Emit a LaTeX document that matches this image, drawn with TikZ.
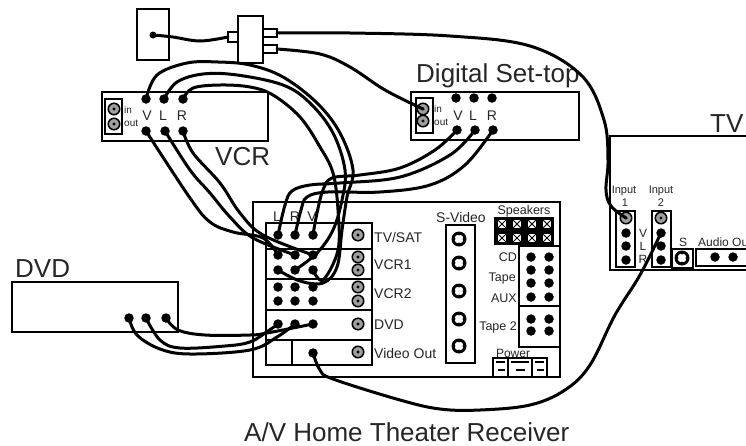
\documentclass[tikz,border=0pt]{standalone}
\usepackage{fontspec}
\setmainfont{Liberation Sans}
\usetikzlibrary{positioning}
\tikzset{
    panel/.style={draw, line width=2pt, fill=white, rectangle, inner sep=0pt, outer sep=0pt},
    dot/.style={circle, fill=black, minimum size=9.5pt, inner sep=0pt, outer sep=0pt},
    jack/.style={circle, draw, line width=1.5pt, fill=black!38, minimum size=11.5pt, inner sep=0pt, outer sep=0pt,
        path picture={\fill[black] (path picture bounding box.center) circle (1.7pt);}},
    svideo/.style={circle, fill=black, minimum size=15pt, inner sep=0pt, outer sep=0pt,
        path picture={\fill[white] (path picture bounding box.center) circle (4.6pt);
            \fill[black] (path picture bounding box.center)++(4.4pt,0) circle (1.1pt);
            \fill[black] (path picture bounding box.center)++(-4.4pt,0) circle (1.1pt);
            \fill[black] (path picture bounding box.center)++(0,4.4pt) circle (1.1pt);
            \fill[black] (path picture bounding box.center)++(0,-4.4pt) circle (1.1pt);}},
    spk/.style={rectangle, fill=white, minimum size=8.5pt, inner sep=0pt, outer sep=0pt,
        path picture={\draw[black, line width=.9pt] (path picture bounding box.north west) -- (path picture bounding box.south east);
            \draw[black, line width=.9pt] (path picture bounding box.north east) -- (path picture bounding box.south west);}},
    cable/.style={line width=3pt, line cap=round, line join=round},
    biglabel/.style={anchor=base west, inner sep=0pt, font=\fontsize{26}{28}\selectfont, text=black!85},
    midlabel/.style={anchor=base, inner sep=0pt, font=\fontsize{14}{16}\selectfont, text=black!85},
    leftlabel/.style={midlabel, anchor=base west},
    rightlabel/.style={midlabel, anchor=base east, font=\fontsize{12.5}{14}\selectfont},
    smalllabel/.style={anchor=base, inner sep=0pt, font=\fontsize{12}{14}\selectfont, text=black!85},
    tinylabel/.style={anchor=base west, inner sep=0pt, font=\fontsize{10}{12}\selectfont, text=black!85},
    partline/.style={line width=2pt},
    powermark/.style={line width=1.6pt}
}
\begin{document}
\begin{tikzpicture}[x=1pt, y=-1pt]
    \clip (0,0) rectangle (746,445);

    % wall plate and splitter
    \node[panel, minimum width=32pt, minimum height=51pt] (wall) at (153,34.5) {};
    \node[dot, minimum size=7pt] (walljack) at (153,35) {};
    \node[panel, minimum width=25pt, minimum height=47pt] (splitter) at (250.5,39.5) {};
    \node[panel, minimum width=10pt, minimum height=10pt] (splitin) at (233,37) {};
    \node[panel, minimum width=14pt, minimum height=8pt] (splitA) at (270,33) {};
    \node[panel, minimum width=14pt, minimum height=8pt] (splitB) at (270,49) {};

    % VCR
    \node[panel, minimum width=166pt, minimum height=49pt] (vcr) at (185,116.5) {};
    \node[panel, minimum width=17pt, minimum height=35pt] (vcrant) at (113.5,116.5) {};
    \node[jack] (vcrin) at (114,109) {};
    \node[jack] (vcrout) at (114,124) {};
    \node[tinylabel] (vcrinlabel) at (124,113) {in};
    \node[tinylabel] (vcroutlabel) at (124,126) {out};
    \node[dot] (vcrtV) at (146,99) {};
    \node[dot] (vcrtL) at (164,99) {};
    \node[dot] (vcrtR) at (183,99) {};
    \node[dot] (vcrbV) at (146,131) {};
    \node[dot] (vcrbL) at (165,131) {};
    \node[dot] (vcrbR) at (183,131) {};
    \node[midlabel] (vcrV) at (147,120) {V};
    \node[midlabel] (vcrL) at (163,120) {L};
    \node[midlabel] (vcrR) at (182,120) {R};
    \node[biglabel] (vcrlabel) at (215,165) {VCR};

    % digital set-top
    \node[panel, minimum width=168pt, minimum height=48pt] (settop) at (495,116) {};
    \node[panel, minimum width=17pt, minimum height=35pt] (settopant) at (424.5,115.5) {};
    \node[jack] (settopin) at (423,109) {};
    \node[jack] (settopout) at (423,121) {};
    \node[tinylabel] (settopinlabel) at (434,112) {in};
    \node[tinylabel] (settopoutlabel) at (434,125) {out};
    \node[dot] (settV) at (456,98) {};
    \node[dot] (settL) at (474,98) {};
    \node[dot] (settR) at (492,98) {};
    \node[dot] (setbV) at (457,130) {};
    \node[dot] (setbL) at (475,130) {};
    \node[dot] (setbR) at (493,130) {};
    \node[midlabel] (setV) at (458,120) {V};
    \node[midlabel] (setL) at (473,120) {L};
    \node[midlabel] (setR) at (492,120) {R};
    \node[biglabel] (settoplabel) at (416,82) {Digital Set-top};

    % DVD
    \node[panel, minimum width=166pt, minimum height=50pt] (dvd) at (95,307) {};
    \node[dot] (dvdV) at (129,318) {};
    \node[dot] (dvdL) at (146,318) {};
    \node[dot] (dvdR) at (166,318) {};
    \node[biglabel] (dvdlabel) at (15,277) {DVD};

    % TV
    \draw[partline] (746,136) -- (610,136) -- (610,270) -- (746,270);
    \node[biglabel] (tvlabel) at (710,132) {TV};
    \node[panel, minimum width=19pt, minimum height=56pt] (input1) at (625.5,239) {};
    \node[panel, minimum width=19pt, minimum height=56pt] (input2) at (661.5,239) {};
    \node[jack] (in1video) at (626,218) {};
    \node[dot] (in1V) at (626,233) {};
    \node[dot] (in1L) at (626,246) {};
    \node[dot] (in1R) at (626,260) {};
    \node[jack] (in2video) at (661,218) {};
    \node[dot] (in2V) at (661,233) {};
    \node[dot] (in2L) at (661,246) {};
    \node[dot] (in2R) at (661,260) {};
    \node[smalllabel, font=\fontsize{11}{13}\selectfont] (in1label) at (624,193) {Input};
    \node[smalllabel, font=\fontsize{11}{13}\selectfont] (in1num) at (625,206) {1};
    \node[smalllabel, font=\fontsize{11}{13}\selectfont] (in2label) at (661,193) {Input};
    \node[smalllabel, font=\fontsize{11}{13}\selectfont] (in2num) at (661,206) {2};
    \node[smalllabel] (tvV) at (643,237) {V};
    \node[smalllabel] (tvL) at (643,250) {L};
    \node[smalllabel] (tvR) at (643,263) {R};
    \node[panel, minimum width=21pt, minimum height=19pt] (tvsbox) at (682.5,258.5) {};
    \node[svideo] (tvs) at (682,258) {};
    \node[smalllabel] (tvslabel) at (683,246) {S};
    \node[panel, minimum width=70pt, minimum height=17pt] (audiobox) at (731,257.5) {};
    \node[dot] (audioL) at (715,257) {};
    \node[dot] (audioR) at (733,257) {};
    \node[smalllabel, anchor=base west] (audiolabel) at (698,246) {Audio Out};

    % receiver
    \node[panel, minimum width=307pt, minimum height=175pt] (receiver) at (406.5,289.5) {};
    \node[panel, minimum width=106pt, minimum height=142pt] (inputs) at (319,294) {};
    \draw[partline] (inputs.west |- 0,249) -- (inputs.east |- 0,249);
    \draw[partline] (inputs.west |- 0,279) -- (inputs.east |- 0,279);
    \draw[partline] (inputs.west |- 0,310) -- (inputs.east |- 0,310);
    \draw[partline] (inputs.west |- 0,340) -- (inputs.east |- 0,340);
    \draw[partline] (292,340) -- (292,365);

    \node[dot] (tvsatL) at (278,235) {};
    \node[dot] (tvsatR) at (295,235) {};
    \node[dot] (tvsatV) at (313,235) {};
    \node[dot] (vcrAL) at (278,255) {};
    \node[dot] (vcrAR) at (295,255) {};
    \node[dot] (vcrAV) at (313,255) {};
    \node[dot] (vcrBL) at (278,270) {};
    \node[dot] (vcrBR) at (295,270) {};
    \node[dot] (vcrBV) at (313,270) {};
    \node[dot] (vcrCL) at (278,287) {};
    \node[dot] (vcrCR) at (295,287) {};
    \node[dot] (vcrCV) at (313,287) {};
    \node[dot] (vcrDL) at (278,301) {};
    \node[dot] (vcrDR) at (295,301) {};
    \node[dot] (vcrDV) at (313,301) {};
    \node[dot] (dvdinL) at (278,324) {};
    \node[dot] (dvdinR) at (295,324) {};
    \node[dot] (dvdinV) at (313,324) {};
    \node[dot] (videoout) at (313,353) {};

    \node[jack] (jacktv) at (358,235) {};
    \node[jack] (jackA) at (358,257) {};
    \node[jack] (jackB) at (358,270) {};
    \node[jack] (jackC) at (358,287) {};
    \node[jack] (jackD) at (358,301) {};
    \node[jack] (jackdvd) at (358,324) {};
    \node[jack] (jackvideo) at (358,352) {};

    \node[midlabel] (labelL) at (277,221) {L};
    \node[midlabel] (labelR) at (295,221) {R};
    \node[midlabel] (labelV) at (312,221) {V};
    \node[leftlabel] (tvsatlabel) at (374,242) {TV/SAT};
    \node[leftlabel] (vcr1label) at (374,269) {VCR1};
    \node[leftlabel] (vcr2label) at (374,298) {VCR2};
    \node[leftlabel] (dvdinlabel) at (374,329) {DVD};
    \node[leftlabel] (videolabel) at (374,358) {Video Out};

    % s-video column
    \node[panel, minimum width=29pt, minimum height=138pt] (scolumn) at (460.5,294) {};
    \node[svideo] (sA) at (459,239) {};
    \node[svideo] (sB) at (459,263) {};
    \node[svideo] (sC) at (459,291) {};
    \node[svideo] (sD) at (459,319) {};
    \node[svideo] (sE) at (459,346) {};
    \node[midlabel] (slabel) at (461,222) {S-Video};

    % speakers
    \node[rectangle, fill=black, minimum width=60pt, minimum height=28pt, inner sep=0pt] (spkblock) at (524,231) {};
    \node[spk] (spkA) at (502,224) {};
    \node[spk] (spkB) at (517,224) {};
    \node[spk] (spkC) at (532,224) {};
    \node[spk] (spkD) at (547,224) {};
    \node[spk] (spkE) at (502,238) {};
    \node[spk] (spkF) at (517,238) {};
    \node[spk] (spkG) at (532,238) {};
    \node[spk] (spkH) at (547,238) {};
    \node[smalllabel, font=\fontsize{12.5}{14}\selectfont] (spklabel) at (524,214) {Speakers};

    % audio inputs
    \node[panel, minimum width=41pt, minimum height=60pt] (audioA) at (539.5,276) {};
    \node[panel, minimum width=41pt, minimum height=41pt] (audioB) at (539.5,326.5) {};
    \node[dot] (cdA) at (531,257) {};
    \node[dot] (cdB) at (549,257) {};
    \node[dot] (tapeA) at (531,270) {};
    \node[dot] (tapeB) at (549,270) {};
    \node[dot] (tapeC) at (531,283) {};
    \node[dot] (tapeD) at (549,283) {};
    \node[dot] (auxA) at (531,297) {};
    \node[dot] (auxB) at (549,297) {};
    \node[dot] (tapetwoA) at (531,319) {};
    \node[dot] (tapetwoB) at (549,319) {};
    \node[dot] (tapetwoC) at (531,331) {};
    \node[dot] (tapetwoD) at (549,331) {};
    \node[rightlabel] (cdlabel) at (517,261) {CD};
    \node[rightlabel] (tapelabel) at (516,281) {Tape};
    \node[rightlabel] (auxlabel) at (517,302) {AUX};
    \node[rightlabel] (tapetwolabel) at (517,330) {Tape 2};

    % power
    \node[panel, minimum width=54pt, minimum height=19pt] (power) at (520,367.5) {};
    \draw[partline] (508,358) -- (508,377);
    \draw[partline] (532,358) -- (532,377);
    \draw[powermark] (496,362) -- (505,362);
    \draw[powermark] (498,370) -- (505,370);
    \draw[powermark] (511,362) -- (529,362);
    \draw[powermark] (516,370) -- (525,370);
    \draw[powermark] (535,362) -- (544,362);
    \draw[powermark] (537,370) -- (544,370);
    \node[smalllabel] (powerlabel) at (513,357) {Power};

    \node[biglabel] (receiverlabel) at (244,441) {A/V Home Theater Receiver};

    % cables
    \draw[cable] plot[smooth, tension=.6] coordinates {(walljack.center) (173,37) (200,41) (splitin.west)};
    \draw[cable] plot[smooth, tension=.6] coordinates {(splitA.east) (350,33) (450,36) (530,46) (582,76) (604,120) (608,160) (606,190) (611,206) (in1video.center)};
    \draw[cable] plot[smooth, tension=.6] coordinates {(splitB.east) (320,54) (350,67) (385,90) (settopin.center)};

    \draw[cable] plot[smooth, tension=.6] coordinates {(vcrtV.center) (157,75) (187,63) (218,62) (250,65) (283,77) (317,103) (340,133) (353,170) (347,197) (342,230) (337,267) (323,283) (300,281) (vcrBL.center)};
    \draw[cable] plot[smooth, tension=.6] coordinates {(vcrtL.center) (177,82) (203,74) (237,75) (283,85) (310,103) (333,133) (345,170) (342,200) (333,230) (317,253) (vcrBR.center)};
    \draw[cable] plot[smooth, tension=.6] coordinates {(vcrtR.center) (193,88) (220,85) (250,87) (273,95) (300,117) (320,147) (333,173) (338,210) (338,250) (323,280) (vcrBV.center)};

    \draw[cable] plot[smooth, tension=.6] coordinates {(vcrbV.center) (190,198) (210,222) (233,232) (263,238) (vcrAL.center)};
    \draw[cable] plot[smooth, tension=.6] coordinates {(vcrbL.center) (190,170) (210,193) (230,217) (253,238) (vcrAR.center)};
    \draw[cable] plot[smooth, tension=.6] coordinates {(vcrbR.center) (193,153) (220,183) (240,213) (263,235) (vcrAV.center)};

    \draw[cable] plot[smooth, tension=.6] coordinates {(setbV.center) (435,150) (400,168) (360,175) (332,178) (323,190) (317,213) (tvsatV.center)};
    \draw[cable] plot[smooth, tension=.6] coordinates {(setbL.center) (450,155) (400,177) (340,183) (310,185) (292,191) (285,205) (tvsatL.center)};
    \draw[cable] plot[smooth, tension=.6] coordinates {(setbR.center) (465,165) (430,185) (380,192) (328,192) (307,197) (301,210) (tvsatR.center)};

    \draw[cable] plot[smooth, tension=.6] coordinates {(dvdR.center) (178,330) (205,335) (250,335) (267,333) (dvdinV.center)};
    \draw[cable] plot[smooth, tension=.6] coordinates {(dvdL.center) (160,340) (180,348) (225,346) (250,342) (268,331) (dvdinL.center)};
    \draw[cable] plot[smooth, tension=.6] coordinates {(dvdV.center) (137,335) (160,349) (190,354) (250,350) (277,337) (dvdinR.center)};

    \draw[cable] plot[smooth, tension=.6] coordinates {(videoout.center) (320,370) (333,379) (400,400) (440,409) (480,410) (530,405) (565,390) (590,365) (615,315) (640,275) (in2V.center)};
\end{tikzpicture}
\end{document}
